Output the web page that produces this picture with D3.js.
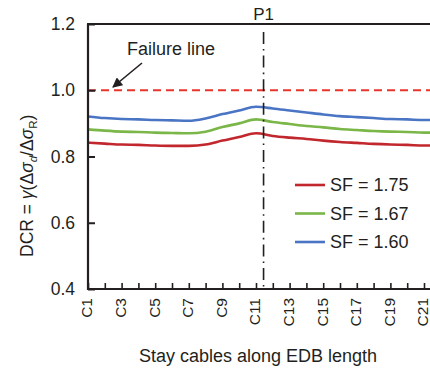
<!DOCTYPE html>
<html><head><meta charset="utf-8">
<script src="https://cdn.jsdelivr.net/npm/d3@7"></script>
<style>body{margin:0;background:#fff}svg{display:block;font-family:"Liberation Sans",Arial,sans-serif}</style>
</head><body><svg id="c" width="430" height="371"></svg>
<script>
const cables = d3.range(1, 23);
const sf175 = [0.842,0.839,0.836,0.835,0.833,0.832,0.832,0.836,0.848,0.859,0.870,0.862,0.857,0.853,0.848,0.844,0.841,0.838,0.836,0.835,0.833,0.833];
const sf167 = [0.882,0.878,0.875,0.874,0.872,0.871,0.870,0.875,0.889,0.900,0.912,0.904,0.898,0.892,0.888,0.883,0.880,0.877,0.875,0.874,0.872,0.872];
const sf160 = [0.921,0.916,0.913,0.912,0.910,0.909,0.908,0.915,0.928,0.939,0.950,0.945,0.939,0.933,0.927,0.922,0.919,0.916,0.913,0.912,0.910,0.910];
const seriesNames = ["SF = 1.75","SF = 1.67","SF = 1.60"];
const seriesColors = ["#c1272d","#7ab648","#4a74c4"];
const yTicks = [0.4,0.6,0.8,1.0,1.2];
const xLabelCables = [1,3,5,7,9,11,13,15,17,19,21];
const failureValue = 1.0;
const p1Position = 11.45;

const svg = d3.select("#c");
const L = 88, T = 24, B = 289;
const x = d3.scaleLinear().domain([1, 22]).range([L, L + 21*16.8]);
const y = d3.scaleLinear().domain([0.4, 1.2]).range([B, T]);
const ink = "#231f20";
const FF = "Liberation Sans, Arial, sans-serif";

// series lines
const line = d3.line().x((d,i)=>x(cables[i])).y(d=>y(d)).curve(d3.curveMonotoneX);
[sf175, sf167, sf160].forEach((s,i)=>{
  svg.append("path").attr("d", line(s)).attr("fill","none")
    .attr("stroke", seriesColors[i]).attr("stroke-width", 2.6);
});

// failure line
svg.append("line").attr("x1", L).attr("x2", 430).attr("y1", y(failureValue)).attr("y2", y(failureValue))
  .attr("stroke","#e8352b").attr("stroke-width",2.2).attr("stroke-dasharray","8,5");

// P1 line
svg.append("line").attr("x1", x(p1Position)).attr("x2", x(p1Position)).attr("y1", T+8).attr("y2", B)
  .attr("stroke", ink).attr("stroke-width",1.6).attr("stroke-dasharray","12,5,1.6,5");
svg.append("text").attr("x", x(p1Position)).attr("y", 20).attr("text-anchor","middle")
  .attr("font-size",17).attr("fill",ink).text("P1");

// axes
const yAxis = d3.axisLeft(y).tickValues(yTicks).tickFormat(d3.format(".1f")).tickSize(-7).tickPadding(13);
const gy = svg.append("g").attr("transform",`translate(${L},0)`).call(yAxis);
gy.select(".domain").remove();
gy.selectAll("line").attr("stroke", ink).attr("stroke-width",2);
gy.selectAll("text").attr("font-size",17.5).attr("fill",ink).attr("font-family",FF);

const xAxis = d3.axisBottom(x).tickValues(cables).tickSize(-6).tickFormat(d => xLabelCables.includes(d) ? "C"+d : "");
const gx = svg.append("g").attr("transform",`translate(0,${B})`).call(xAxis);
gx.select(".domain").remove();
gx.selectAll("line").attr("stroke", ink).attr("stroke-width",1.6);
gx.selectAll("text").attr("font-size",15.5).attr("fill",ink).attr("font-family",FF)
  .attr("transform","rotate(-90)").attr("text-anchor","end").attr("x",-9).attr("y",-1.5).attr("dy","0.35em");

// frame lines
svg.append("line").attr("x1",L).attr("x2",L).attr("y1",T).attr("y2",B+1).attr("stroke",ink).attr("stroke-width",2.2);
svg.append("line").attr("x1",L-1).attr("x2",430).attr("y1",B).attr("y2",B).attr("stroke",ink).attr("stroke-width",2.2);
svg.append("line").attr("x1",L-1).attr("x2",430).attr("y1",T).attr("y2",T).attr("stroke",ink).attr("stroke-width",2);

// failure annotation
svg.append("text").attr("x",127).attr("y",55).attr("font-size",18).attr("fill",ink).text("Failure line");
svg.append("defs").append("marker").attr("id","ah").attr("viewBox","0 0 10 10").attr("refX",9).attr("refY",5)
  .attr("markerWidth",11).attr("markerHeight",10).attr("markerUnits","userSpaceOnUse").attr("orient","auto")
  .append("path").attr("d","M0,0 L10,5 L0,10 z").attr("fill",ink);
svg.append("line").attr("x1",142).attr("y1",63).attr("x2",113).attr("y2",87)
  .attr("stroke",ink).attr("stroke-width",1.6).attr("marker-end","url(#ah)");

// legend
seriesNames.forEach((n,i)=>{
  const yy = 185 + i*28.5;
  svg.append("line").attr("x1",295).attr("x2",325).attr("y1",yy).attr("y2",yy).attr("stroke",seriesColors[i]).attr("stroke-width",2.6);
  svg.append("text").attr("x",330).attr("y",yy).attr("dy","0.36em").attr("font-size",18).attr("fill",ink).text(n);
});

// axis titles
svg.append("text").attr("x",258).attr("y",362).attr("text-anchor","middle").attr("font-size",18).attr("fill",ink)
  .text("Stay cables along EDB length");
const yt = svg.append("text").attr("transform","translate(33,257) rotate(-90)").attr("text-anchor","start")
  .attr("font-size",17.5).attr("fill",ink);
yt.append("tspan").text("DCR = ");
yt.append("tspan").attr("font-style","italic").text("γ");
yt.append("tspan").text("(Δ");
yt.append("tspan").attr("font-style","italic").text("σ");
yt.append("tspan").attr("font-style","italic").attr("font-size",11.5).attr("dy",4).text("d");
yt.append("tspan").attr("dy",-4).text("/Δ");
yt.append("tspan").attr("font-style","italic").text("σ");
yt.append("tspan").attr("font-size",11.5).attr("dy",4).text("R");
yt.append("tspan").attr("dy",-4).text(")");
</script></body></html>
